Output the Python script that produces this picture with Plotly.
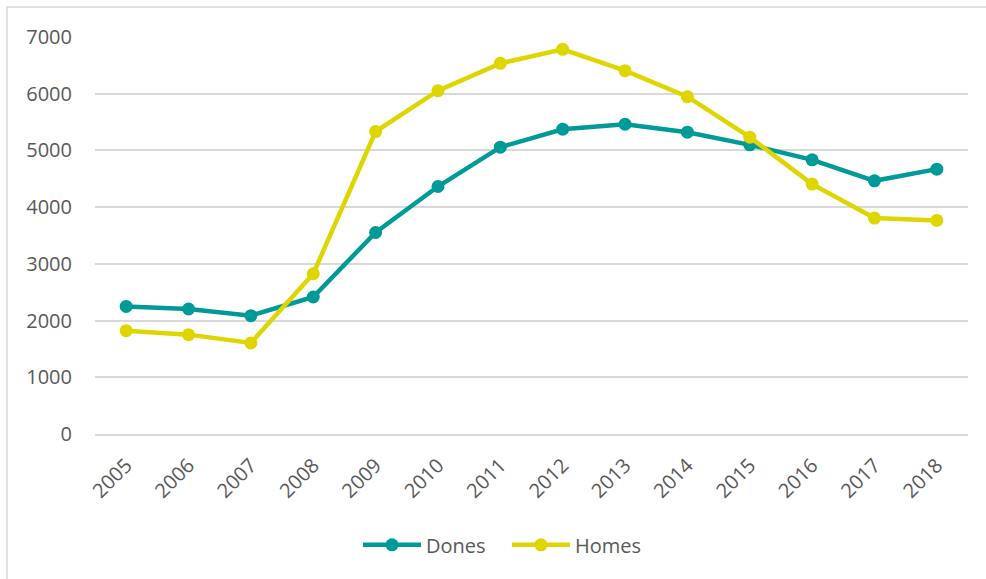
import plotly.graph_objects as go

years = ["2005", "2006", "2007", "2008", "2009", "2010", "2011", "2012", "2013", "2014", "2015", "2016", "2017", "2018"]
dones = [2250, 2204, 2087, 2416, 3553, 4364, 5057, 5374, 5462, 5321, 5098, 4834, 4464, 4670]
homes = [1822, 1752, 1606, 2826, 5332, 6054, 6536, 6783, 6406, 5948, 5233, 4406, 3807, 3765]
y_ticks = [0, 1000, 2000, 3000, 4000, 5000, 6000, 7000]

TEAL = "#009a98"
YELLOW = "#dfd500"
GRID = "#d9d9d9"
TXT = "#595959"
FONT = "Open Sans"

fig = go.Figure()
fig.add_trace(go.Scatter(x=years, y=dones, name="Dones", mode="lines+markers",
                         line=dict(color=TEAL, width=4.5),
                         marker=dict(color=TEAL, size=13)))
fig.add_trace(go.Scatter(x=years, y=homes, name="Homes", mode="lines+markers",
                         line=dict(color=YELLOW, width=4.5),
                         marker=dict(color=YELLOW, size=13)))

W, H = 986, 579
L, R, T, B = 95, 18, 37, 144.5
pw = W - L - R
ph = H - T - B

fig.update_layout(
    width=W, height=H,
    margin=dict(l=L, r=R, t=T, b=B, pad=0),
    paper_bgcolor="white", plot_bgcolor="white",
    font=dict(family=FONT, color=TXT, size=20),
    showlegend=True,
    legend=dict(orientation="h", x=(358 - L) / pw, xanchor="left", y=-0.23, yanchor="top",
                font=dict(size=20, color=TXT), itemwidth=58, entrywidth=76,
                entrywidthmode="pixels", traceorder="normal"),
    xaxis=dict(type="category", range=[-0.5, 13.5], showgrid=False,
               showline=True, linecolor=GRID, linewidth=1.5,
               tickangle=-45, ticks="", ticklabelstandoff=10,
               tickfont=dict(size=20, color=TXT), fixedrange=True),
    yaxis=dict(range=[0, 7000], tickvals=y_ticks, showgrid=True, gridcolor=GRID,
               gridwidth=1.5, zeroline=False, showline=False, ticks="",
               ticklabelstandoff=22, tickfont=dict(size=20, color=TXT), fixedrange=True),
    shapes=[dict(type="rect", xref="paper", yref="paper",
                 x0=(7 - L) / pw, x1=(W + 10 - L) / pw,
                 y0=-(H + 10 - T - ph) / ph, y1=(ph + T - 7) / ph,
                 line=dict(color=GRID, width=1.5), fillcolor="rgba(0,0,0,0)", layer="below")],
)

fig.write_html("out.html", config={"displayModeBar": False},
               post_script="document.body.style.margin='0';")
